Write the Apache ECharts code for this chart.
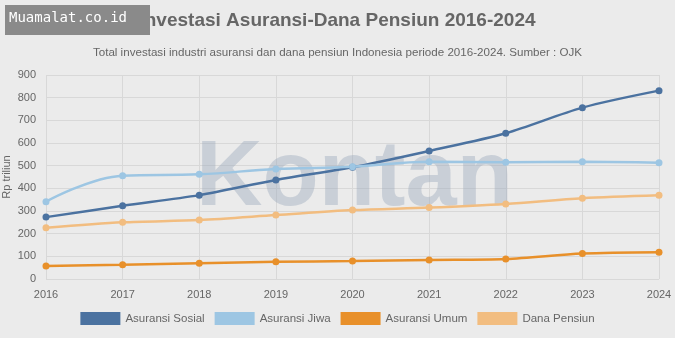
<!DOCTYPE html>
<html><head><meta charset="utf-8">
<script src="https://cdn.jsdelivr.net/npm/echarts@6/dist/echarts.min.js"></script>
<style>html,body{margin:0;padding:0;background:#ebebeb}#c{width:675px;height:338px}</style>
</head><body><div id="c"></div>
<script>
const years = ['2016','2017','2018','2019','2020','2021','2022','2023','2024'];
const asuransiSosial = [273, 323, 370, 437, 493, 565, 643, 756, 831];
const asuransiJiwa = [341, 456, 462, 485, 495, 517, 515, 517, 513];
const asuransiUmum = [57, 63, 70, 76, 79, 84, 88, 112, 118];
const danaPensiun = [226, 250, 260, 282, 304, 315, 331, 356, 369];
const yTicks = [0,100,200,300,400,500,600,700,800,900];

const chart = echarts.init(document.getElementById('c'));
function s(name, data, color, smooth){
  return {name, type:'line', data, smooth, symbol:'circle', symbolSize:7,
    lineStyle:{color, width:2.5}, itemStyle:{color}, z:3};
}
chart.setOption({
  backgroundColor:'#ebebeb',
  animation:false,
  title:[{text:'Investasi Asuransi-Dana Pensiun 2016-2024', left:'center', top:6,
    textStyle:{fontFamily:'Liberation Sans, Arial', fontSize:19, fontWeight:'bold', color:'#666'}},
    {text:'Total investasi industri asuransi dan dana pensiun Indonesia periode 2016-2024. Sumber : OJK', left:'center', top:42,
    textStyle:{fontFamily:'Liberation Sans, Arial', fontSize:11.6, fontWeight:'normal', color:'#666'}}],
  graphic:[
    {type:'text', left:196, top:134, z:1, style:{text:'Kontan', font:'bold 92px Liberation Sans, Arial', fill:'rgba(160,172,190,0.45)'}},
    {type:'rect', shape:{x:5,y:5,width:145,height:30}, style:{fill:'#8a8a8a'}, z:10},
    {type:'text', left:9, top:11, z:11, style:{text:'Muamalat.co.id', font:'14px DejaVu Sans Mono', fill:'#fff'}}
  ],
  legend:{bottom:8, left:'center', itemWidth:40, itemHeight:13, itemGap:10, icon:'rect',
    textStyle:{fontFamily:'Liberation Sans, Arial', fontSize:11.5, color:'#666'},
    data:['Asuransi Sosial','Asuransi Jiwa','Asuransi Umum','Dana Pensiun']},
  grid:{left:46, right:16, top:75, bottom:59, containLabel:false, outerBoundsMode:'none'},
  xAxis:{type:'category', data:years, boundaryGap:false,
    axisLine:{show:false}, axisTick:{show:false},
    axisLabel:{color:'#666', fontSize:11, margin:10, fontFamily:'Liberation Sans, Arial'},
    splitLine:{show:true, lineStyle:{color:'#d8d8d8'}}},
  yAxis:{type:'value', min:0, max:900, interval:100,
    name:'Rp triliun', nameLocation:'middle', nameGap:34, nameRotate:90, nameMoveOverlap:false,
    nameTextStyle:{color:'#666', fontSize:11, fontFamily:'Liberation Sans, Arial'},
    axisLine:{show:false}, axisTick:{show:false},
    axisLabel:{color:'#666', fontSize:11, margin:10, fontFamily:'Liberation Sans, Arial',
      formatter:(v)=> yTicks.includes(v)? String(v):''},
    splitLine:{lineStyle:{color:'#d8d8d8'}}},
  series:[
    s('Asuransi Sosial', asuransiSosial, '#4b72a0', 0.3),
    s('Asuransi Jiwa', asuransiJiwa, '#9dc6e3', 0.4),
    s('Asuransi Umum', asuransiUmum, '#e8902a', 0.3),
    s('Dana Pensiun', danaPensiun, '#f2bd80', 0.3)
  ]
});
</script></body></html>
